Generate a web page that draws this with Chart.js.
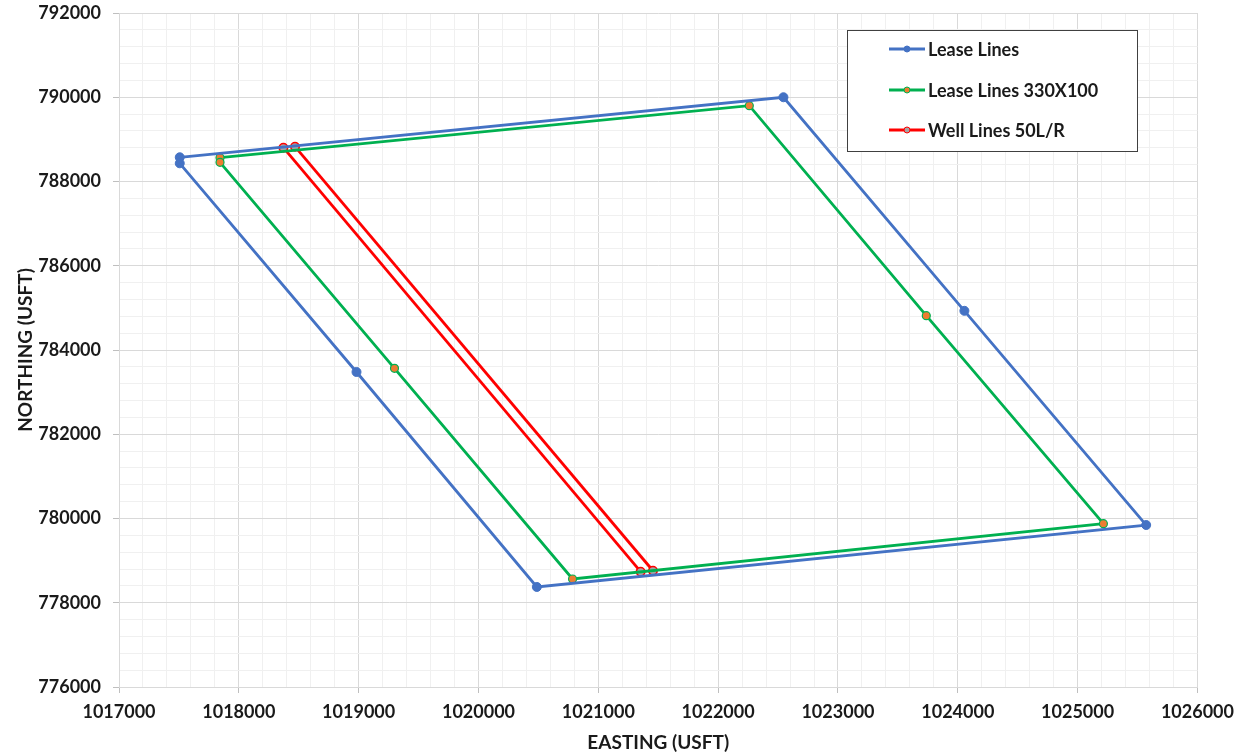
<!DOCTYPE html>
<html>
<head>
<meta charset="utf-8">
<script src="https://cdn.jsdelivr.net/npm/chart.js@4/dist/chart.umd.min.js"></script>
<style>
  body { margin: 0; background: #fff; }
  #wrap { width: 1242px; height: 754px; }
</style>
</head>
<body>
<div id="wrap"><canvas id="chart" width="1242" height="754"></canvas></div>
<script>
// lease outline (closed polygon)
const leaseX = [1017507, 1022545, 1024055, 1025572, 1020487, 1018982, 1017507]
const leaseY = [788575, 790000, 784930, 779845, 778375, 783478, 788432]

// lease lines offset 330x100
const offsetX = [1017843, 1022260, 1023737, 1025215, 1020785, 1019299, 1017843]
const offsetY = [788565, 789800, 784814, 779877, 778564, 783566, 788456]

// well lines 50 L/R
const wellLeftX = [1018372, 1021353]
const wellLeftY = [788802, 778737]
const wellRightX = [1018469, 1021456]
const wellRightY = [788826, 778760]

const legendLabels = ['Lease Lines', 'Lease Lines 330X100', 'Well Lines 50L/R']

const xMin = 1017000, xMax = 1026000
const yMin = 776000, yMax = 792000

const FONT = 'Lato'
const TEXT = '#1a1a1a'

function pts (xs, ys) {
  return xs.map((x, i) => ({ x: x, y: ys[i] }))
}

const blue = { line: '#4472C4', fill: '#4472C4', border: '#4472C4', r: 4.5, bw: 1 }
const green = { line: '#00B050', fill: '#ED7D31', border: '#00B050', r: 4, bw: 1.2 }
const red = { line: '#FF0000', fill: '#A5A5A5', border: '#FF0000', r: 4.2, bw: 1.6 }

function series (label, data, st) {
  return {
    label: label,
    data: data,
    showLine: true,
    borderColor: st.line,
    borderWidth: 2.8,
    pointRadius: st.r,
    pointHoverRadius: st.r,
    pointBackgroundColor: st.fill,
    pointBorderColor: st.border,
    pointBorderWidth: st.bw,
    fill: false,
    tension: 0
  }
}

// legend box inside the plot, like the spreadsheet one
const boxLegend = {
  id: 'boxLegend',
  afterDatasetsDraw (chart) {
    const ctx = chart.ctx
    const x0 = 847, y0 = 30, w = 290, h = 121
    ctx.save()
    ctx.fillStyle = '#fff'
    ctx.fillRect(x0, y0, w, h)
    ctx.strokeStyle = '#404040'
    ctx.lineWidth = 1
    ctx.strokeRect(x0 + 0.5, y0 + 0.5, w, h)
    const styles = [blue, green, red]
    const rows = [49, 90, 130]
    ctx.font = 'bold 18px ' + FONT
    ctx.textBaseline = 'middle'
    legendLabels.forEach((txt, i) => {
      const st = styles[i]
      const y = rows[i]
      ctx.strokeStyle = st.line
      ctx.lineWidth = 2.8
      ctx.beginPath()
      ctx.moveTo(889, y)
      ctx.lineTo(925, y)
      ctx.stroke()
      ctx.beginPath()
      ctx.arc(907, y, 3, 0, Math.PI * 2)
      ctx.fillStyle = st.fill
      ctx.fill()
      ctx.lineWidth = 1
      ctx.strokeStyle = st.border
      ctx.stroke()
      ctx.fillStyle = TEXT
      ctx.fillText(txt, 928, y + 1)
    })
    ctx.restore()
  }
}

function gridColor (ctx) {
  return ctx.tick && ctx.tick.value % 1000 === 0 ? '#d9d9d9' : '#f0f0f0'
}
function tickColor (ctx) {
  return ctx.tick && ctx.tick.value % 1000 === 0 ? '#bfbfbf' : 'rgba(0,0,0,0)'
}
function yGridColor (ctx) {
  return ctx.tick && ctx.tick.value % 2000 === 0 ? '#d9d9d9' : '#f0f0f0'
}
function yTickColor (ctx) {
  return ctx.tick && ctx.tick.value % 2000 === 0 ? '#bfbfbf' : 'rgba(0,0,0,0)'
}

new Chart(document.getElementById('chart').getContext('2d'), {
  type: 'scatter',
  data: {
    datasets: [
      series(legendLabels[0], pts(leaseX, leaseY), blue),
      series(legendLabels[1], pts(offsetX, offsetY), green),
      series(legendLabels[2], pts(wellLeftX, wellLeftY), red),
      series(legendLabels[2], pts(wellRightX, wellRightY), red)
    ]
  },
  options: {
    responsive: false,
    animation: false,
    devicePixelRatio: 1,
    layout: { padding: { left: 0, right: 44, top: 13, bottom: 0 } },
    plugins: {
      legend: { display: false },
      tooltip: { enabled: false }
    },
    scales: {
      x: {
        type: 'linear',
        min: xMin,
        max: xMax,
        afterFit: (scale) => { scale.height = 67 },
        border: { color: '#d9d9d9', width: 1 },
        grid: { color: gridColor, tickColor: tickColor, tickLength: 6, lineWidth: 1 },
        ticks: {
          stepSize: 200,
          autoSkip: false,
          maxRotation: 0,
          padding: 8,
          color: TEXT,
          font: { family: FONT, size: 18, weight: 'bold' },
          callback: (v) => v % 1000 === 0 ? String(v) : ''
        },
        title: {
          display: true,
          text: 'EASTING (USFT)',
          color: TEXT,
          font: { family: FONT, size: 19, weight: 'bold', lineHeight: 1.2 },
          padding: { top: 0, bottom: 0 }
        }
      },
      y: {
        type: 'linear',
        min: yMin,
        max: yMax,
        afterFit: (scale) => {
          scale.width = 119
          scale.paddingTop = 0
          scale.paddingBottom = 0
        },
        border: { color: '#d9d9d9', width: 1 },
        grid: { color: yGridColor, tickColor: yTickColor, tickLength: 6, lineWidth: 1 },
        ticks: {
          stepSize: 400,
          autoSkip: false,
          padding: 12,
          color: TEXT,
          font: { family: FONT, size: 18, weight: 'bold' },
          callback: (v) => v % 2000 === 0 ? String(v) : ''
        },
        title: {
          display: true,
          text: 'NORTHING (USFT)',
          color: TEXT,
          font: { family: FONT, size: 19, weight: 'bold', lineHeight: 1.2 },
          padding: { top: 14, bottom: 0 }
        }
      }
    }
  },
  plugins: [boxLegend]
})
</script>
</body>
</html>
